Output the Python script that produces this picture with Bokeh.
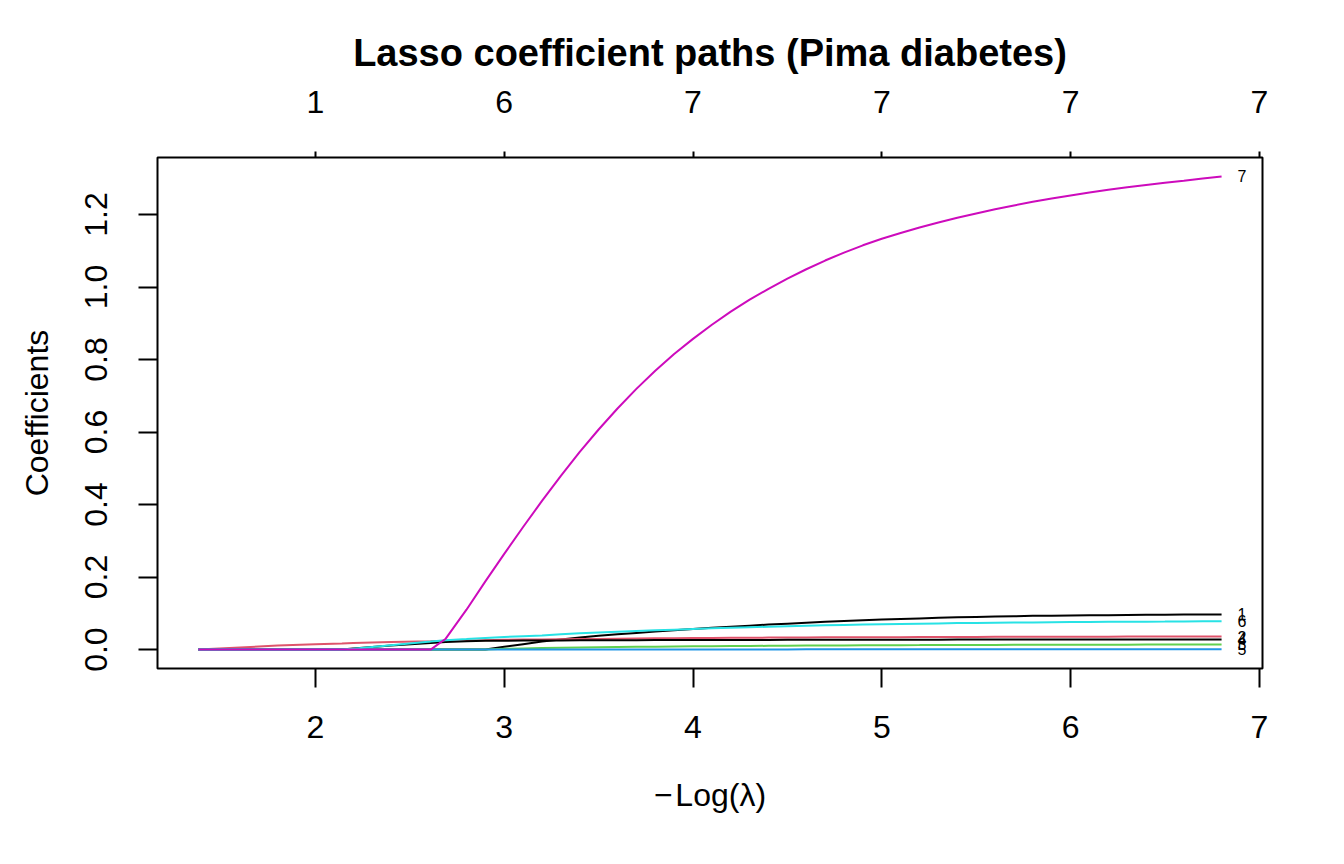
from bokeh.plotting import figure
from bokeh.models import Range1d, FixedTicker, LinearAxis, PrintfTickFormatter
from bokeh.core.properties import value
from bokeh.embed import file_html
from bokeh.resources import INLINE

# -log(lambda) grid of the lasso path
neg_log_lambda = [1.38, 1.6, 1.8, 2.0, 2.14, 2.2, 2.4, 2.61, 2.69, 2.8, 2.9,
                  3.0, 3.1, 3.2, 3.3, 3.4, 3.5, 3.6, 3.7, 3.8, 3.9,
                  4.0, 4.1, 4.2, 4.3, 4.4, 4.5, 4.6, 4.7, 4.8, 4.9,
                  5.0, 5.1, 5.2, 5.3, 5.4, 5.5, 5.6, 5.7, 5.8, 5.9,
                  6.0, 6.1, 6.2, 6.3, 6.4, 6.5, 6.6, 6.7, 6.8]

# coefficient paths, one list per predictor
coef_1 = [0, 0, 0, 0, 0, 0, 0, 0, 0, 0, 0,
          0.008, 0.015, 0.022, 0.028, 0.033, 0.038, 0.042, 0.046, 0.050, 0.0535,
          0.057, 0.060, 0.063, 0.066, 0.069, 0.0715, 0.074, 0.0765, 0.079, 0.081,
          0.083, 0.0845, 0.086, 0.0875, 0.089, 0.090, 0.091, 0.092, 0.093, 0.0935,
          0.094, 0.0945, 0.095, 0.0955, 0.096, 0.0962, 0.0965, 0.0968, 0.097]
coef_2 = [0, 0.006, 0.011, 0.015, 0.017, 0.018, 0.021, 0.023, 0.024, 0.025, 0.026,
          0.027, 0.0275, 0.028, 0.0285, 0.029, 0.0295, 0.030, 0.0305, 0.031, 0.0315,
          0.032, 0.0322, 0.0325, 0.0327, 0.033, 0.0332, 0.0335, 0.0337, 0.034, 0.034,
          0.0341, 0.0343, 0.0345, 0.0347, 0.0349, 0.035, 0.0351, 0.0352, 0.0353, 0.0354,
          0.0355, 0.0356, 0.0357, 0.0358, 0.0358, 0.0359, 0.0359, 0.036, 0.036]
coef_3 = [0, 0, 0, 0, 0, 0, 0, 0, 0, 0, 0,
          0.002, 0.003, 0.004, 0.0048, 0.0055, 0.0063, 0.007, 0.0075, 0.008, 0.0085,
          0.009, 0.0094, 0.0097, 0.010, 0.0103, 0.0106, 0.011, 0.0112, 0.0115, 0.0118,
          0.012, 0.0122, 0.0123, 0.0125, 0.0126, 0.0128, 0.0129, 0.013, 0.0131, 0.0132,
          0.0133, 0.0134, 0.0135, 0.0136, 0.0137, 0.0137, 0.0138, 0.0139, 0.014]
coef_4 = [0, 0, 0, 0, 0, 0.003, 0.011, 0.018, 0.021, 0.023, 0.024,
          0.0245, 0.0248, 0.025, 0.0252, 0.0255, 0.0257, 0.0259, 0.026, 0.0261, 0.0262,
          0.0263, 0.0264, 0.0265, 0.0266, 0.0267, 0.0268, 0.0269, 0.027, 0.027, 0.0271,
          0.0272, 0.0273, 0.0274, 0.0274, 0.0275, 0.0275, 0.0276, 0.0276, 0.0277, 0.0277,
          0.0278, 0.0278, 0.0279, 0.0279, 0.028, 0.028, 0.028, 0.028, 0.028]
coef_5 = [0, 0, 0, 0, 0, 0, 0, 0, 0, 0, 0,
          0, 0, 0, 0, 0, 0, 0, 0.0001, 0.0002, 0.0002,
          0.0003, 0.0003, 0.0004, 0.0004, 0.0005, 0.0005, 0.0006, 0.0006, 0.0006, 0.0007,
          0.0007, 0.0007, 0.0007, 0.0008, 0.0008, 0.0008, 0.0008, 0.0009, 0.0009, 0.0009,
          0.0009, 0.0009, 0.0009, 0.001, 0.001, 0.001, 0.001, 0.001, 0.001]
coef_6 = [0, 0, 0, 0, 0, 0.002, 0.012, 0.022, 0.026, 0.029, 0.032,
          0.035, 0.037, 0.039, 0.042, 0.045, 0.047, 0.049, 0.051, 0.053, 0.055,
          0.057, 0.0585, 0.060, 0.0615, 0.063, 0.0645, 0.066, 0.067, 0.068, 0.069,
          0.070, 0.0708, 0.0715, 0.0722, 0.073, 0.0735, 0.074, 0.0745, 0.075, 0.0754,
          0.0758, 0.0762, 0.0765, 0.0768, 0.077, 0.0772, 0.0775, 0.0778, 0.078]
coef_7 = [0, 0, 0, 0, 0, 0, 0, 0, 0.03, 0.11, 0.188,
          0.264, 0.338, 0.41, 0.479, 0.545, 0.607, 0.665, 0.719, 0.769, 0.815,
          0.857, 0.896, 0.932, 0.965, 0.995, 1.023, 1.049, 1.073, 1.095, 1.115,
          1.133, 1.149, 1.164, 1.178, 1.191, 1.203, 1.2145, 1.225, 1.235, 1.244,
          1.2525, 1.2605, 1.268, 1.275, 1.2815, 1.2875, 1.293, 1.2995, 1.305]

paths = [coef_1, coef_2, coef_3, coef_4, coef_5, coef_6, coef_7]
path_labels = ["1", "2", "3", "4", "5", "6", "7"]
path_colors = ["#000000", "#DF536B", "#61D04F", "#000000", "#2297E6", "#28E2E5", "#CD0BBC"]

# degrees of freedom shown on the top axis
df_ticks = [2, 3, 4, 5, 6, 7]
df_labels = ["1", "6", "7", "7", "7", "7"]

y_ticks = [0.0, 0.2, 0.4, 0.6, 0.8, 1.0, 1.2]

FONT = "Liberation Sans"

x_lo, x_hi = min(neg_log_lambda), max(neg_log_lambda)
y_lo = min(min(c) for c in paths)
y_hi = max(max(c) for c in paths)
xpad = 0.04 * (x_hi - x_lo)
ypad = 0.04 * (y_hi - y_lo)

p = figure(width=1344, height=864,
           x_range=Range1d(x_lo - xpad, x_hi + xpad),
           y_range=Range1d(y_lo - ypad, y_hi + ypad),
           output_backend="svg", toolbar_location=None,
           min_border_left=157, min_border_right=82,
           min_border_top=157, min_border_bottom=196,
           title="Lasso coefficient paths (Pima diabetes)")

p.background_fill_color = "white"
p.border_fill_color = "white"
p.outline_line_color = "black"
p.outline_line_width = 2
p.xgrid.visible = False
p.ygrid.visible = False

p.title.align = "center"
p.title.text_font = FONT
p.title.text_font_size = "38px"
p.title.text_font_style = "bold"
p.title.text_color = "black"
p.title.standoff = 27


def style_axis(ax, tick_out):
    ax.axis_line_color = None
    ax.major_tick_line_color = "black"
    ax.major_tick_line_width = 2
    ax.major_tick_out = tick_out
    ax.major_tick_in = 0
    ax.minor_tick_line_color = None
    ax.major_label_text_font = FONT
    ax.major_label_text_font_size = "32px"
    ax.major_label_text_color = "black"
    ax.axis_label_text_font = FONT
    ax.axis_label_text_font_size = "32px"
    ax.axis_label_text_font_style = "normal"
    ax.axis_label_text_color = "black"


xa = p.xaxis[0]
style_axis(xa, 19)
xa.ticker = FixedTicker(ticks=df_ticks)
xa.major_label_standoff = 28
xa.axis_label = "\u2212\u200aLog(\u03bb)"
xa.axis_label_standoff = 36

ya = p.yaxis[0]
style_axis(ya, 19)
ya.ticker = FixedTicker(ticks=y_ticks)
ya.formatter = PrintfTickFormatter(format="%.1f")
ya.major_label_orientation = "parallel"
ya.major_label_standoff = 31
ya.axis_label = "Coefficients"
ya.axis_label_standoff = 28

top = LinearAxis(ticker=FixedTicker(ticks=df_ticks),
                 major_label_overrides={t: s for t, s in zip(df_ticks, df_labels)})
style_axis(top, 6)
top.major_label_standoff = 39
p.add_layout(top, "above")

for coefs, col in zip(paths, path_colors):
    p.line(neg_log_lambda, coefs, line_color=col, line_width=2)

p.text(x=[neg_log_lambda[-1]] * len(paths), y=[c[-1] for c in paths], text=path_labels,
       x_offset=16, text_align="left", text_baseline="middle",
       text_font=value(FONT), text_font_size="16px", text_color="black")

open("out.html", "w").write(file_html(p, INLINE))
